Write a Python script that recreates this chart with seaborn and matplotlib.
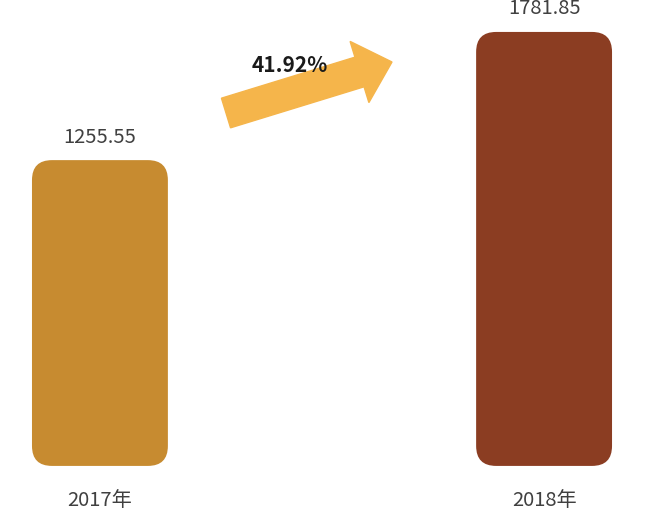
import matplotlib
matplotlib.use("Agg")
import matplotlib.pyplot as plt
from matplotlib.patches import FancyBboxPatch, FancyArrow
import seaborn as sns
import pandas as pd

# 数据
years = ["2017年", "2018年"]
values = [1255.55, 1781.85]
value_labels = ["1255.55", "1781.85"]
growth_label = "41.92%"
bar_colors = ["#C78B30", "#8B3D22"]

sns.set_style("white")
plt.rcParams['font.family'] = ['Noto Sans CJK SC', 'DejaVu Sans']

df = pd.DataFrame({"year": years, "value": values})

fig = plt.figure(figsize=(6.6, 5.29), dpi=100)
ax = fig.add_axes([0, 0, 1, 1])
sns.barplot(data=df, x="year", y="value", hue="year", palette=bar_colors,
            width=0.306, saturation=1, legend=False, ax=ax)
ax.set_xlim(-0.225, 1.261)
ax.set_ylim(-259, 1913)
ax.axis("off")

# 圆角柱子
aspect = (1913 + 259) / 5.29 / ((1.261 + 0.225) / 6.6)
for p in list(ax.patches):
    x, y = p.get_x(), p.get_y()
    w, h = p.get_width(), p.get_height()
    rb = FancyBboxPatch((x, y), w, h,
                        boxstyle="round,pad=0,rounding_size=0.045",
                        mutation_aspect=aspect,
                        facecolor=p.get_facecolor(), edgecolor="none")
    p.remove()
    ax.add_patch(rb)

for i, (v, lab) in enumerate(zip(values, value_labels)):
    ax.annotate(lab, (i, v), xytext=(0, 9), textcoords="offset points",
                ha="center", va="bottom", fontsize=14.5, color="#404040")
    ax.text(i, -140, years[i], ha="center", va="center", fontsize=14.5,
            color="#404040")

# 增长箭头
arrow = FancyArrow(2.26, 5.29 - 1.13, 1.66, 0.51, width=0.31,
                   head_width=0.64, head_length=0.34,
                   length_includes_head=True, color="#F5B54B",
                   transform=fig.dpi_scale_trans)
fig.add_artist(arrow)
fig.text(290 / 660, 1 - 65 / 529, growth_label, ha="center", va="center",
         fontsize=15, fontweight="bold", color="#1a1a1a")

fig.savefig("out.png", dpi=100)
